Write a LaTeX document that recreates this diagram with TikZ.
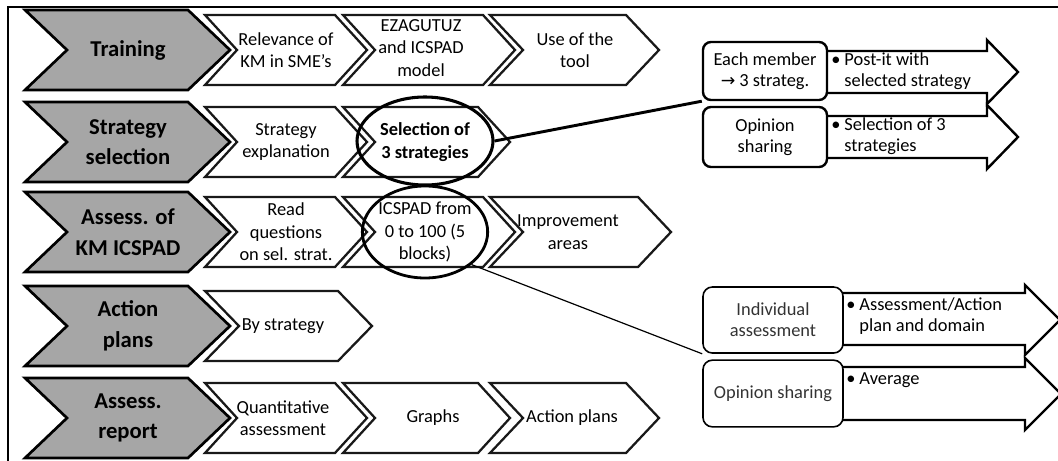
\documentclass[tikz,border=0pt]{standalone}
\usepackage{fontspec}
\setmainfont{Carlito}
\newfontfamily\symfont{DejaVu Sans}
\usetikzlibrary{shapes.geometric}
\definecolor{chevgray}{HTML}{A6A6A6}
% #2 left x, #3 top-right x, #4 centre y, #5 half height, #6 depth
\newcommand{\mychev}[6][]{\draw[#1] (#2,#4-#5) -- (#3,#4-#5) -- (#3+#6,#4) -- (#3,#4+#5) -- (#2,#4+#5) -- (#2+#6,#4) -- cycle;}
\tikzset{
  graychev/.style={draw=black, fill=chevgray, line width=2pt, line join=miter},
  whitechev/.style={draw=black!90, fill=white, line width=1.7pt, line join=miter},
  gtext/.style={font=\fontsize{17}{23}\selectfont\bfseries, align=center, inner sep=0pt},
  wtext/.style={font=\fontsize{13.8}{16.8}\selectfont, align=center, inner sep=0pt},
  rtext/.style={font=\fontsize{13.8}{15.5}\selectfont, align=center, inner sep=0pt},
  btext/.style={font=\fontsize{13.8}{15.5}\selectfont, anchor=west, inner sep=0pt},
  ring/.style={draw=black, ellipse, line width=2.3pt, inner sep=0pt},
  boxthick/.style={draw=black, fill=white, rounded corners=6pt, line width=1.8pt},
  boxthin/.style={draw=black, fill=white, rounded corners=7pt, line width=1.2pt},
  bigarrow/.style={draw=black, fill=white, line width=1.8pt, line join=miter},
}
\begin{document}
\begin{tikzpicture}[x=0.75pt,y=-0.75pt]
\useasboundingbox (0,0) rectangle (1058,461);
\clip (0,0) rectangle (1058,461);
% frame
\draw[line width=1.1pt] (8,470) -- (8,7) -- (1070,7);

% grey chevrons
\foreach \yc in {50,142,232,326,418}{\mychev[graychev]{25}{188}{\yc}{40}{42}}

% white chevrons row 1
\mychev[whitechev]{205}{335}{50}{35}{32}
\mychev[whitechev]{343}{483}{50}{35}{32}
\mychev[whitechev]{490}{626}{50}{35}{33}
% row 2
\mychev[whitechev]{205}{335}{142}{35}{32}
\mychev[whitechev]{343}{478}{142}{35}{32}
% row 3
\mychev[whitechev]{205}{335}{232}{35}{32}
\mychev[whitechev]{343}{483}{232}{35}{32}
\mychev[whitechev]{490}{638}{232}{35}{33}
% row 4
\mychev[whitechev]{205}{338}{326}{35}{34}
% row 5
\mychev[whitechev]{205}{335}{418}{35}{32}
\mychev[whitechev]{343}{478}{418}{35}{32}
\mychev[whitechev]{490}{626}{418}{35}{33}

% grey texts
\node[gtext] (g1) at (128,50) {Training};
\node[gtext] (g2) at (128,142) {Strategy\\selection};
\node[gtext] (g3) at (128,232) {Assess. of\\KM ICSPAD};
\node[gtext] (g4) at (128,326) {Action\\plans};
\node[gtext] (g5) at (128,418) {Assess.\\report};

% white texts
\node[wtext] (t11) at (286,50) {Relevance of\\KM in SME’s};
\node[wtext] (t12) at (421,48) {EZAGUTUZ\\and ICSPAD\\model};
\node[wtext] (t13) at (575,50) {Use of the\\tool};
\node[wtext] (t21) at (286,142) {Strategy\\explanation};
\node[wtext,font=\fontsize{13.8}{16.8}\selectfont\bfseries] (t22) at (425,142) {Selection of\\3 strategies};
\node[wtext] (t31) at (286,232) {Read\\questions\\on sel. strat.};
\node[wtext] (t32) at (425,232) {ICSPAD from\\0 to 100 (5\\blocks)};
\node[wtext] (t33) at (568,232) {Improvement\\areas};
\node[wtext] (t41) at (283,326) {By strategy};
\node[wtext] (t51) at (283,418) {Quantitative\\assessment};
\node[wtext] (t52) at (433,418) {Graphs};
\node[wtext] (t53) at (572,418) {Action plans};

% ellipses
\node[ring, minimum width=102pt, minimum height=66pt] (e1) at (425,141) {};
\node[ring, line width=2.1pt, minimum width=94pt, minimum height=69pt] (e2) at (425,232) {};

% right group 1
\draw[bigarrow] (760,51) -- (987,51) -- (987,40) -- (1018,72) -- (987,104) -- (987,93) -- (760,93) -- cycle;
\draw[bigarrow] (760,116) -- (987,116) -- (987,105) -- (1018,137) -- (987,169) -- (987,158) -- (760,158) -- cycle;
\node[boxthick, minimum width=93pt, minimum height=43.5pt] (bA) at (765,71) {};
\node[boxthick, minimum width=93pt, minimum height=45pt] (bB) at (765,137) {};
\node[rtext] (tA) at (bA) {Each member\\{\symfont\fontsize{13}{13}\selectfont →} 3 strateg.};
\node[rtext] (tB) at (bB) {Opinion\\sharing};
\node[btext] (pA) at (831,72) {\begin{tabular}{@{}l@{\hspace{3pt}}l@{}}•&Post-it with\\&selected strategy\end{tabular}};
\node[btext] (pB) at (831,137) {\begin{tabular}{@{}l@{\hspace{3pt}}l@{}}•&Selection of 3\\&strategies\end{tabular}};

% right group 2
\draw[bigarrow] (760,293) -- (1025,293) -- (1025,285) -- (1060,320) -- (1025,355) -- (1025,345) -- (760,345) -- cycle;
\draw[bigarrow] (760,367) -- (1025,367) -- (1025,358) -- (1061,394) -- (1025,430) -- (1025,420) -- (760,420) -- cycle;
\node[boxthin, minimum width=105pt, minimum height=49.5pt] (bC) at (773,320) {};
\node[boxthin, minimum width=105pt, minimum height=50pt] (bD) at (773,393.5) {};
\node[rtext, text=black!80] (tC) at (bC) {Individual\\assessment};
\node[rtext, text=black!80] (tD) at (bD) {Opinion sharing};
\node[btext] (pC) at (846,317) {\begin{tabular}{@{}l@{\hspace{3pt}}l@{}}•&Assessment/Action\\&plan and domain\end{tabular}};
\node[btext] (pD) at (846,380) {\begin{tabular}{@{}l@{\hspace{3pt}}l@{}}•&Average\end{tabular}};

% connectors
\draw[line width=2.2pt] (e1.east) -- (bA.south west);
\draw[line width=0.9pt] (e2.-35) -- (bC.south west);
\end{tikzpicture}
\end{document}
